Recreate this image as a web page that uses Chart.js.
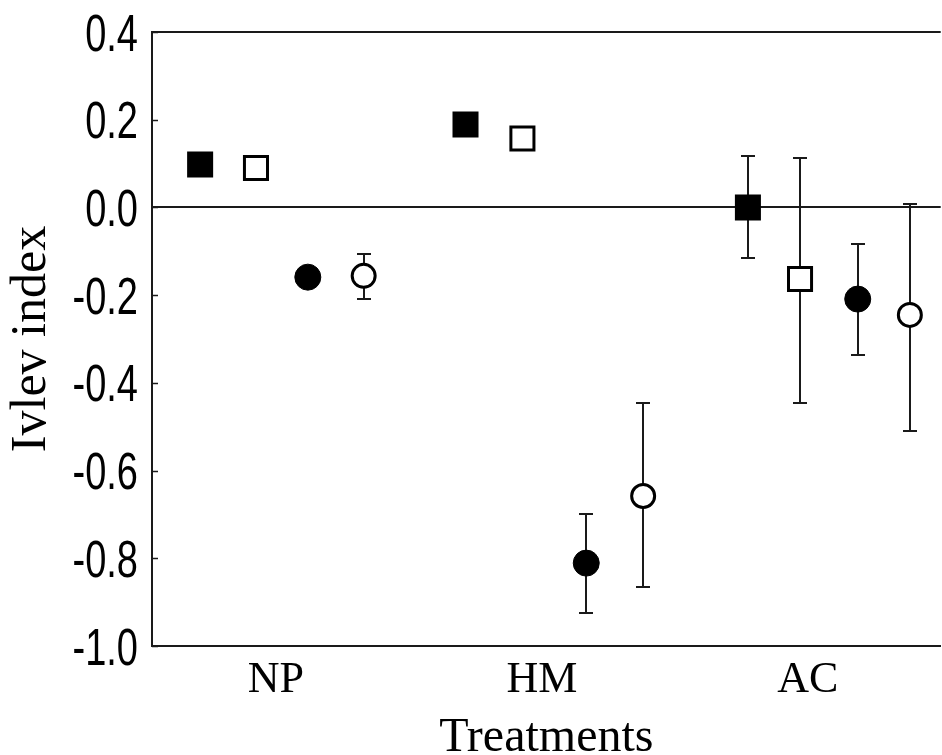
<!DOCTYPE html>
<html>
<head>
<meta charset="utf-8">
<script src="https://cdn.jsdelivr.net/npm/chart.js@4/dist/chart.umd.min.js"></script>
<style>
  html, body { margin: 0; padding: 0; background: #fff; overflow: hidden; }
  #wrap { width: 960px; height: 755px; }
  #chart { width: 960px; height: 755px; }
</style>
</head>
<body>
<div id="wrap"><canvas id="chart" width="960" height="755"></canvas></div>
<script>
// categories on the x axis
const categories = ["NP", "HM", "AC"];
const yTicks = [-1.0, -0.8, -0.6, -0.4, -0.2, 0.0, 0.2, 0.4];

// filled squares
const sqFillX = [-0.285, 0.713, 1.775];
const sqFillY = [0.098, 0.189, 0.0];
const sqFillHi = [null, null, 0.117];
const sqFillLo = [null, null, -0.116];

// open squares
const sqOpenX = [-0.075, 0.927, 1.971];
const sqOpenY = [0.090, 0.157, -0.163];
const sqOpenHi = [null, null, 0.113];
const sqOpenLo = [null, null, -0.446];

// filled circles
const ciFillX = [0.120, 1.167, 2.188];
const ciFillY = [-0.159, -0.811, -0.209];
const ciFillHi = [null, -0.700, -0.084];
const ciFillLo = [null, -0.925, -0.336];

// open circles
const ciOpenX = [0.330, 1.381, 2.384];
const ciOpenY = [-0.156, -0.658, -0.245];
const ciOpenHi = [-0.106, -0.446, 0.008];
const ciOpenLo = [-0.209, -0.865, -0.510];

function pts(xs, ys) {
  return xs.map((x, i) => ({x: x, y: ys[i]}));
}

const ink = "#1a1a1a";

// error bars, drawn under the markers
const errorBars = {
  id: "errorBars",
  beforeDatasetsDraw(chart) {
    const ctx = chart.ctx;
    const xs = chart.scales.x;
    const ys = chart.scales.y;
    ctx.save();
    ctx.strokeStyle = ink;
    ctx.lineWidth = 2;
    chart.data.datasets.forEach(ds => {
      ds.data.forEach((p, i) => {
        const hi = ds.errHi[i];
        const lo = ds.errLo[i];
        if (hi === null || lo === null) return;
        const px = Math.round(xs.getPixelForValue(p.x));
        const yh = Math.round(ys.getPixelForValue(hi));
        const yl = Math.round(ys.getPixelForValue(lo));
        ctx.beginPath();
        ctx.moveTo(px, yh); ctx.lineTo(px, yl);
        ctx.moveTo(px - 7, yh); ctx.lineTo(px + 7, yh);
        ctx.moveTo(px - 7, yl); ctx.lineTo(px + 7, yl);
        ctx.stroke();
      });
    });
    ctx.restore();
  }
};

// y tick labels (narrow sans) and small tick marks pointing into the plot
const yAxisDeco = {
  id: "yAxisDeco",
  afterDraw(chart) {
    const ctx = chart.ctx;
    const ys = chart.scales.y;
    const left = chart.chartArea.left;
    ctx.save();
    ctx.strokeStyle = ink;
    ctx.lineWidth = 1.5;
    ys.ticks.forEach(t => {
      const py = Math.round(ys.getPixelForValue(t.value)) + 0.5;
      ctx.beginPath();
      ctx.moveTo(left, py); ctx.lineTo(left + 6, py);
      ctx.stroke();
    });
    ctx.fillStyle = "#000";
    ctx.font = "51px 'Liberation Sans', Arial, sans-serif";
    ctx.textAlign = "right";
    ctx.textBaseline = "alphabetic";
    ys.ticks.forEach(t => {
      const py = ys.getPixelForValue(t.value);
      ctx.save();
      ctx.translate(138, py + 18.5);
      ctx.scale(0.745, 1);
      ctx.fillText(t.value.toFixed(1), 0, 0);
      ctx.restore();
    });
    ctx.restore();
  }
};

new Chart(document.getElementById("chart"), {
  type: "scatter",
  data: {
    datasets: [
      {
        data: pts(sqFillX, sqFillY), errHi: sqFillHi, errLo: sqFillLo,
        pointStyle: "rect", pointRadius: 18.4,
        backgroundColor: "#000", borderColor: "#000", borderWidth: 0,
      },
      {
        data: pts(sqOpenX, sqOpenY), errHi: sqOpenHi, errLo: sqOpenLo,
        pointStyle: "rect", pointRadius: 16.3,
        backgroundColor: "#fff", borderColor: "#000", borderWidth: 3,
      },
      {
        data: pts(ciFillX, ciFillY), errHi: ciFillHi, errLo: ciFillLo,
        pointStyle: "circle", pointRadius: 13,
        backgroundColor: "#000", borderColor: "#000", borderWidth: 1,
      },
      {
        data: pts(ciOpenX, ciOpenY), errHi: ciOpenHi, errLo: ciOpenLo,
        pointStyle: "circle", pointRadius: 11.5,
        backgroundColor: "#fff", borderColor: "#000", borderWidth: 3,
      },
    ]
  },
  options: {
    responsive: false,
    animation: false,
    events: [],
    layout: { padding: { top: 32, right: 2, left: 0, bottom: 0 } },
    plugins: {
      legend: { display: false },
      tooltip: { enabled: false },
    },
    scales: {
      x: {
        type: "linear",
        min: -0.466,
        max: 2.5,
        afterBuildTicks: (s) => { s.ticks = categories.map((_, i) => ({value: i})); },
        afterFit: (s) => { s.height = 109; },
        ticks: {
          callback: (v) => categories[v],
          color: "#000",
          font: { family: "'Liberation Serif', 'Times New Roman', serif", size: 44 },
          padding: 0,
          maxRotation: 0,
        },
        grid: { display: false },
        border: { display: true, color: ink, width: 2 },
        title: {
          display: true,
          text: "Treatments",
          color: "#000",
          font: { family: "'Liberation Serif', 'Times New Roman', serif", size: 48 },
          padding: { top: 0, bottom: -12 },
        },
      },
      y: {
        min: -1.0,
        max: 0.4,
        afterBuildTicks: (s) => { s.ticks = yTicks.map(v => ({value: v})); },
        afterFit: (s) => { s.width = 152; },
        ticks: { display: false },
        grid: {
          drawTicks: false,
          lineWidth: 2,
          color: (c) => (c.tick && (Math.abs(c.tick.value) < 1e-9 || Math.abs(c.tick.value - 0.4) < 1e-9)) ? ink : "rgba(0,0,0,0)",
        },
        border: { display: true, color: ink, width: 2 },
        title: {
          display: true,
          text: "Ivlev index",
          color: "#000",
          font: { family: "'Liberation Serif', 'Times New Roman', serif", size: 50 },
          padding: { top: 2, bottom: 0 },
        },
      }
    }
  },
  plugins: [errorBars, yAxisDeco]
});
</script>
</body>
</html>
